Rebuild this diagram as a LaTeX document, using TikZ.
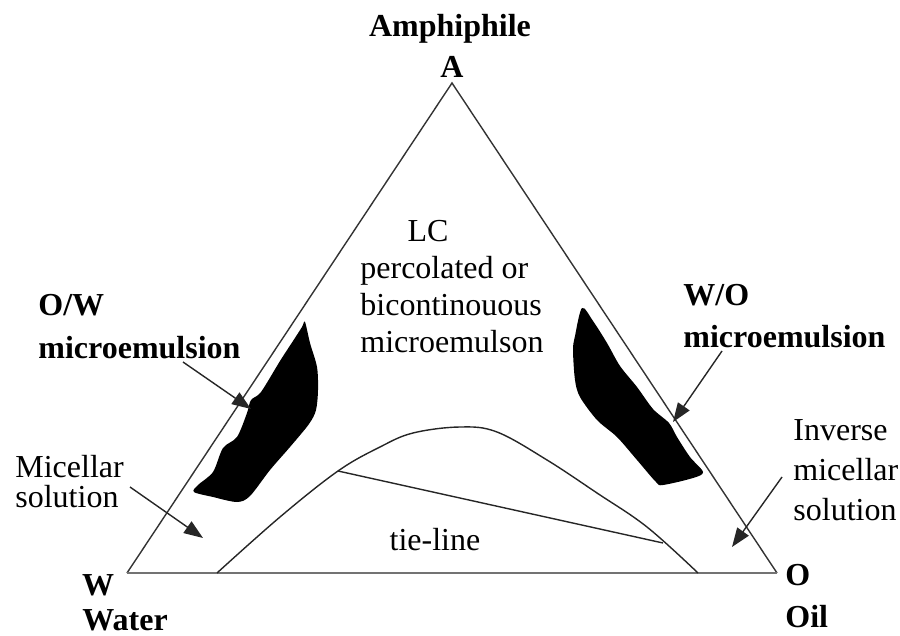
\documentclass[tikz,border=0pt]{standalone}
\usepackage{fontspec}
\setmainfont{Liberation Serif}
\usetikzlibrary{arrows.meta}

\tikzset{
    tri edge/.style={
      draw=black!80,
      line width=0.7pt
    },
    tri base/.style={
      draw=black!55,
      line width=1.3pt
    },
    dome line/.style={
      draw=black!85,
      line width=0.7pt
    },
    phase blob/.style={
      fill=black
    },
    pointer/.style={
      draw=black!85,
      line width=0.7pt,
      -{Triangle[length=9.5pt,width=7pt]}
    },
    vertex label/.style={
      font=\fontsize{16}{20}\selectfont\bfseries,
      inner sep=0pt
    },
    region label/.style={
      font=\fontsize{16}{21}\selectfont\bfseries,
      align=left,
      inner sep=0pt
    },
    plain label/.style={
      font=\fontsize{16}{18.5}\selectfont,
      align=left,
      inner sep=0pt
    }
  }

\begin{document}
\begin{tikzpicture}[x=0.5pt,y=-0.5pt]
      \useasboundingbox (0,0) rectangle (900,636);

      % triangle
      \coordinate (A) at (452,83);
      \coordinate (W) at (127,573);
      \coordinate (O) at (777,573);
      \draw[tri edge] (W) -- (A) -- (O);
      \draw[tri base] (W) -- (O);

      % two-phase dome and tie-line
      \coordinate (tieL) at (338,471);
      \coordinate (tieR) at (663,543);
      \draw[dome line] plot[smooth, tension=0.6] coordinates {
        (217,573) (280,517) (338,471) (380,447) (413,433) (460,427)
        (497,432) (547,460) (597,493) (647,527) (698,573)};
      \draw[dome line] (tieL) -- (tieR);

      % microemulsion regions
      \fill[phase blob] plot[smooth cycle, tension=0.5] coordinates {
        (305,322) (310,343) (317,367) (318,390) (316,410) (309,424)
        (290,447) (270,470) (250,496) (237,502) (213,497) (194,492)
        (198,485) (213,472) (223,448) (237,437) (247,413) (251,400)
        (261,392) (280,361) (293,341) (302,327)};
      \fill[phase blob] plot[smooth cycle, tension=0.5] coordinates {
        (582,308) (593,321) (607,343) (620,366) (637,387) (653,409)
        (669,423) (677,437) (690,457) (703,472) (693,478) (663,485)
        (656,482) (637,460) (617,437) (597,420) (580,397) (575,380)
        (573,350) (575,336)};

      % vertex labels
      \node[vertex label, anchor=base] (amph) at (450,37) {Amphiphile};
      \node[vertex label, anchor=base] (alab) at (452,78) {A};
      \node[vertex label, anchor=base] (wlab) at (98,595) {W};
      \node[vertex label, anchor=base west] (water) at (82,630) {Water};
      \node[vertex label, anchor=base west] (olab) at (785,585) {O};
      \node[vertex label, anchor=base west] (oil) at (785,627) {Oil};

      % region labels (base = last line)
      \node[region label, anchor=base west] (owlab) at (38,358) {O/W\\microemulsion};
      \node[region label, anchor=base west] (wolab) at (683,348) {W/O\\microemulsion};
      \node[plain label, anchor=base] (lc) at (428,242) {LC};
      \node[plain label, anchor=base west] (lcphase) at (360,353)
        {percolated or\\bicontinouous\\microemulson};
      \node[plain label, anchor=base west, font=\fontsize{16}{15}\selectfont]
        (mic) at (15,507) {Micellar\\solution};
      \node[plain label, anchor=base west, font=\fontsize{16}{20}\selectfont]
        (invmic) at (793,520) {Inverse\\micellar\\solution};
      \node[plain label, anchor=base] (tie) at (435,550) {tie-line};

      % pointers
      \coordinate (owS) at (183,362);
      \coordinate (owE) at (251,409);
      \coordinate (micS) at (130,487);
      \coordinate (micE) at (203,538);
      \coordinate (woS) at (722,351);
      \coordinate (woE) at (673,422);
      \coordinate (invS) at (782,477);
      \coordinate (invE) at (732,547);
      \draw[pointer] (owS) -- (owE);
      \draw[pointer] (micS) -- (micE);
      \draw[pointer] (woS) -- (woE);
      \draw[pointer] (invS) -- (invE);
    \end{tikzpicture}
\end{document}
